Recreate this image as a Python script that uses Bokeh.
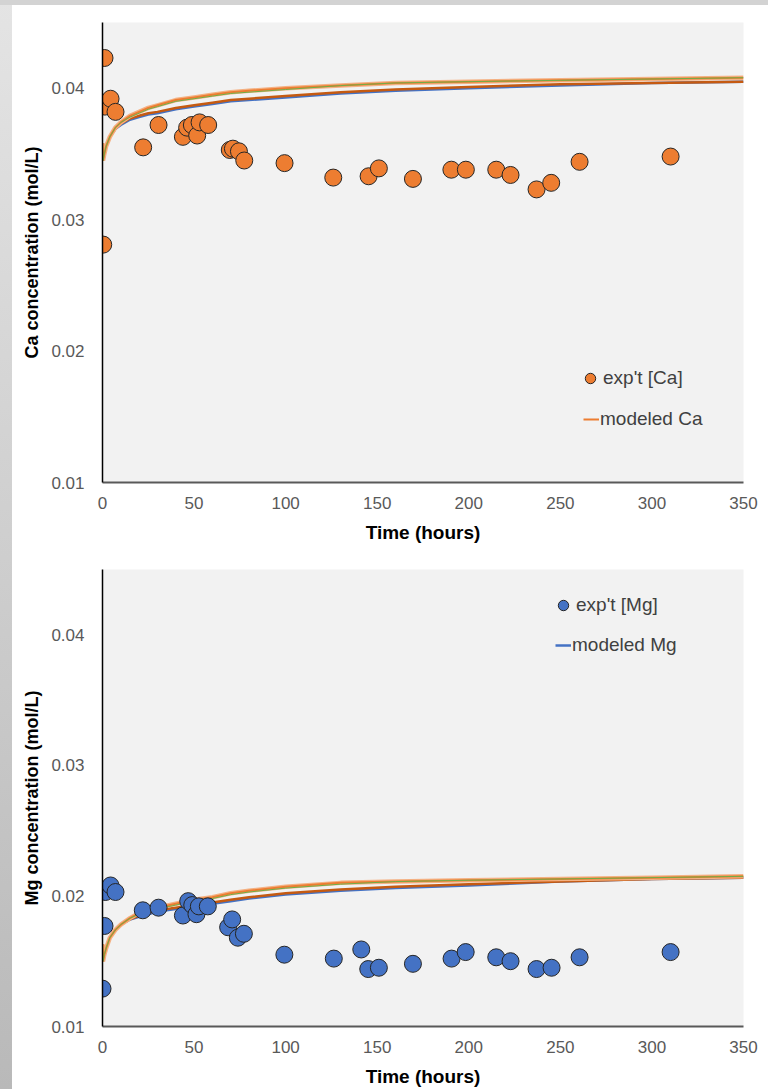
from bokeh.plotting import figure
from bokeh.models import FixedTicker, Range1d, Legend, LegendItem, PrintfTickFormatter
from bokeh.layouts import column
from bokeh.embed import file_html
from bokeh.resources import INLINE

# ---------------- data ----------------
time_ticks = [0, 50, 100, 150, 200, 250, 300, 350]
conc_ticks = [0.01, 0.02, 0.03, 0.04]

ca_t = [0.4, 1.1, 1.3, 4.4, 7.1, 22.2, 30.6, 43.9, 46.2, 48.8, 51.7, 53.0, 57.7,
        69.5, 71.2, 74.5, 77.4, 99.4, 126.0, 145.3, 150.9, 169.5, 190.5, 198.4,
        215.0, 222.8, 237.0, 245.0, 260.5, 310.2]
ca_c = [0.0281, 0.0423, 0.0386, 0.0392, 0.0382, 0.0355, 0.0372, 0.0363, 0.0370,
        0.0372, 0.0364, 0.0374, 0.0372, 0.0353, 0.0354, 0.0352, 0.0345, 0.0343,
        0.0332, 0.0333, 0.0339, 0.0331, 0.0338, 0.0338, 0.0338, 0.0334, 0.0323,
        0.0328, 0.0344, 0.0348]

mg_t = [0.0, 1.1, 1.6, 4.4, 7.1, 22.0, 30.6, 43.9, 46.8, 49.0, 51.3, 52.6, 57.5,
        68.6, 70.8, 73.9, 77.2, 99.3, 126.3, 141.3, 145.1, 150.9, 169.5, 190.6,
        198.3, 215.0, 222.8, 237.0, 245.2, 260.5, 310.2]
mg_c = [0.0129, 0.0177, 0.0203, 0.0208, 0.0203, 0.0189, 0.0191, 0.0185, 0.0196,
        0.0193, 0.0186, 0.0192, 0.0192, 0.0176, 0.0182, 0.0168, 0.0171, 0.0155,
        0.0152, 0.0159, 0.0144, 0.0145, 0.0148, 0.0152, 0.0157, 0.0153, 0.0150,
        0.0144, 0.0145, 0.0153, 0.0157]

model_t = [0, 0.3, 1, 2, 4, 7, 10, 15, 20, 25, 30, 40, 50, 60, 70, 80, 100, 130,
           160, 200, 250, 300, 350]
ca_model_upper = [0.0358, 0.0345, 0.0350, 0.0356, 0.0363, 0.0370, 0.0374, 0.0379,
                  0.0382, 0.0385, 0.0387, 0.0391, 0.0393, 0.0395, 0.0397, 0.0398,
                  0.0400, 0.0402, 0.0404, 0.0405, 0.0406, 0.0407, 0.0408]
ca_model_green = [0.0358, 0.0345, 0.0350, 0.0356, 0.0363, 0.0370, 0.0374, 0.0378,
                  0.0381, 0.0384, 0.0386, 0.0390, 0.0392, 0.0394, 0.0396, 0.0397,
                  0.0399, 0.0402, 0.0404, 0.0405, 0.0406, 0.0407, 0.0408]
ca_model_lower = [0.0358, 0.0345, 0.0350, 0.0356, 0.0363, 0.0369, 0.0373, 0.0377,
                  0.0379, 0.0381, 0.0382, 0.0385, 0.0387, 0.0389, 0.0391, 0.0392,
                  0.0394, 0.0397, 0.0399, 0.0401, 0.0403, 0.0404, 0.0405]
ca_model_blue = [0.0358, 0.0345, 0.0350, 0.0356, 0.0363, 0.0369, 0.0372, 0.0376,
                 0.0378, 0.0380, 0.0381, 0.0384, 0.0386, 0.0388, 0.0390, 0.0391,
                 0.0393, 0.0396, 0.0398, 0.0400, 0.0402, 0.0404, 0.0405]

mg_model_upper = [0.0163, 0.0150, 0.0155, 0.0160, 0.0168, 0.0174, 0.0178, 0.0183,
                  0.0187, 0.0189, 0.0191, 0.0194, 0.0197, 0.0199, 0.0202, 0.0204,
                  0.0207, 0.0210, 0.0211, 0.0212, 0.0213, 0.0214, 0.0215]
mg_model_green = [0.0163, 0.0150, 0.0155, 0.0160, 0.0168, 0.0174, 0.0178, 0.0183,
                  0.0186, 0.0188, 0.0190, 0.0193, 0.0196, 0.0198, 0.0201, 0.0203,
                  0.0206, 0.0209, 0.0211, 0.0212, 0.0213, 0.0214, 0.0215]
mg_model_lower = [0.0163, 0.0150, 0.0155, 0.0160, 0.0168, 0.0174, 0.0178, 0.0182,
                  0.0185, 0.0187, 0.0189, 0.0191, 0.0193, 0.0195, 0.0197, 0.0199,
                  0.0202, 0.0205, 0.0207, 0.0209, 0.0211, 0.0213, 0.0214]
mg_model_blue = [0.0163, 0.0150, 0.0155, 0.0160, 0.0168, 0.0174, 0.0178, 0.0182,
                 0.0184, 0.0186, 0.0188, 0.0190, 0.0192, 0.0194, 0.0196, 0.0198,
                 0.0201, 0.0204, 0.0206, 0.0208, 0.0211, 0.0213, 0.0214]

FONT = "Liberation Sans"


def make_fig(height, top_border, bottom_border, ylabel):
    p = figure(width=756, height=height, output_backend="svg", toolbar_location=None,
               x_range=Range1d(0, 350), y_range=Range1d(0.01, 0.045),
               min_border_left=90, min_border_right=25,
               min_border_top=top_border, min_border_bottom=bottom_border,
               background_fill_color="#f2f2f2", border_fill_color=None,
               outline_line_color=None)
    p.grid.visible = False
    xa, ya = p.xaxis[0], p.yaxis[0]
    xa.ticker = FixedTicker(ticks=time_ticks)
    ya.ticker = FixedTicker(ticks=conc_ticks)
    ya.formatter = PrintfTickFormatter(format="%.2f")
    for ax in (xa, ya):
        ax.major_tick_line_color = None
        ax.minor_tick_line_color = None
        ax.major_label_text_font = FONT
        ax.major_label_text_font_size = "17px"
        ax.major_label_text_color = "#595959"
        ax.axis_label_text_font = FONT
        ax.axis_label_text_font_style = "bold"
        ax.axis_label_text_color = "#000000"
    xa.axis_line_color = "#595959"
    xa.axis_line_width = 2
    ya.axis_line_color = "#000000"
    ya.axis_line_width = 1.5
    xa.axis_label = "Time (hours)"
    xa.axis_label_text_font_size = "19px"
    xa.major_label_standoff = 8
    xa.axis_label_standoff = 10
    ya.axis_label = ylabel
    ya.axis_label_text_font_size = "18px"
    ya.major_label_standoff = 12
    ya.axis_label_standoff = 6
    return p


def add_models(p, up, gr, lo, bl):
    blue = p.line(model_t, bl, line_color="#4472c4", line_width=2.5)
    p.line(model_t, lo, line_color="#c55a11", line_width=2.5)
    p.line(model_t, up, line_color="#f4b183", line_width=4.5)
    orange = p.line(model_t, up, line_color="#ed7d31", line_width=2)
    p.line(model_t, gr, line_color="#70ad47", line_width=1)
    return orange, blue


def make_legend(label, renderer, loc, gw, gh, standoff):
    leg = Legend(items=[LegendItem(label=label, renderers=[renderer])], location=loc)
    leg.background_fill_alpha = 0
    leg.border_line_color = None
    leg.padding = 0
    leg.margin = 0
    leg.glyph_width = gw
    leg.glyph_height = gh
    leg.label_standoff = standoff
    leg.label_text_font = FONT
    leg.label_text_font_size = "19px"
    leg.label_text_color = "#404040"
    return leg


# ---------------- Ca chart ----------------
p1 = make_fig(540, 17, 61, "Ca concentration (mol/L)")
ca_orange, _ = add_models(p1, ca_model_upper, ca_model_green, ca_model_lower, ca_model_blue)
ca_pts = p1.scatter(ca_t, ca_c, size=17, fill_color="#ed7d31",
                    line_color="#262626", line_width=1)
p1.add_layout(make_legend("exp't [Ca]", ca_pts, (475, 91), 26, 26, 0))
p1.add_layout(make_legend("modeled Ca", ca_orange, (481, 52), 16, 20, 1))
p1.margin = (5, 0, 0, 12)

# ---------------- Mg chart ----------------
p2 = make_fig(544, 24, 57, "Mg concentration (mol/L)")
_, mg_blue = add_models(p2, mg_model_upper, mg_model_green, mg_model_lower, mg_model_blue)
mg_pts = p2.scatter(mg_t, mg_c, size=17, fill_color="#4472c4",
                    line_color="#262626", line_width=1)
p2.add_layout(make_legend("exp't [Mg]", mg_pts, (448, 408), 26, 26, 0))
p2.add_layout(make_legend("modeled Mg", mg_blue, (453, 370), 16, 20, 1))
p2.margin = (0, 0, 0, 12)

bg = ("linear-gradient(to bottom, #d3d3d3 0px, #d3d3d3 5px, transparent 5px), "
      "linear-gradient(to right, transparent 12px, #ffffff 12px), "
      "linear-gradient(to bottom, #e4e4e4, #b9b9b9)")
layout = column(p1, p2, spacing=0, styles={"background": bg})

open("out.html", "w").write(file_html(layout, INLINE))
